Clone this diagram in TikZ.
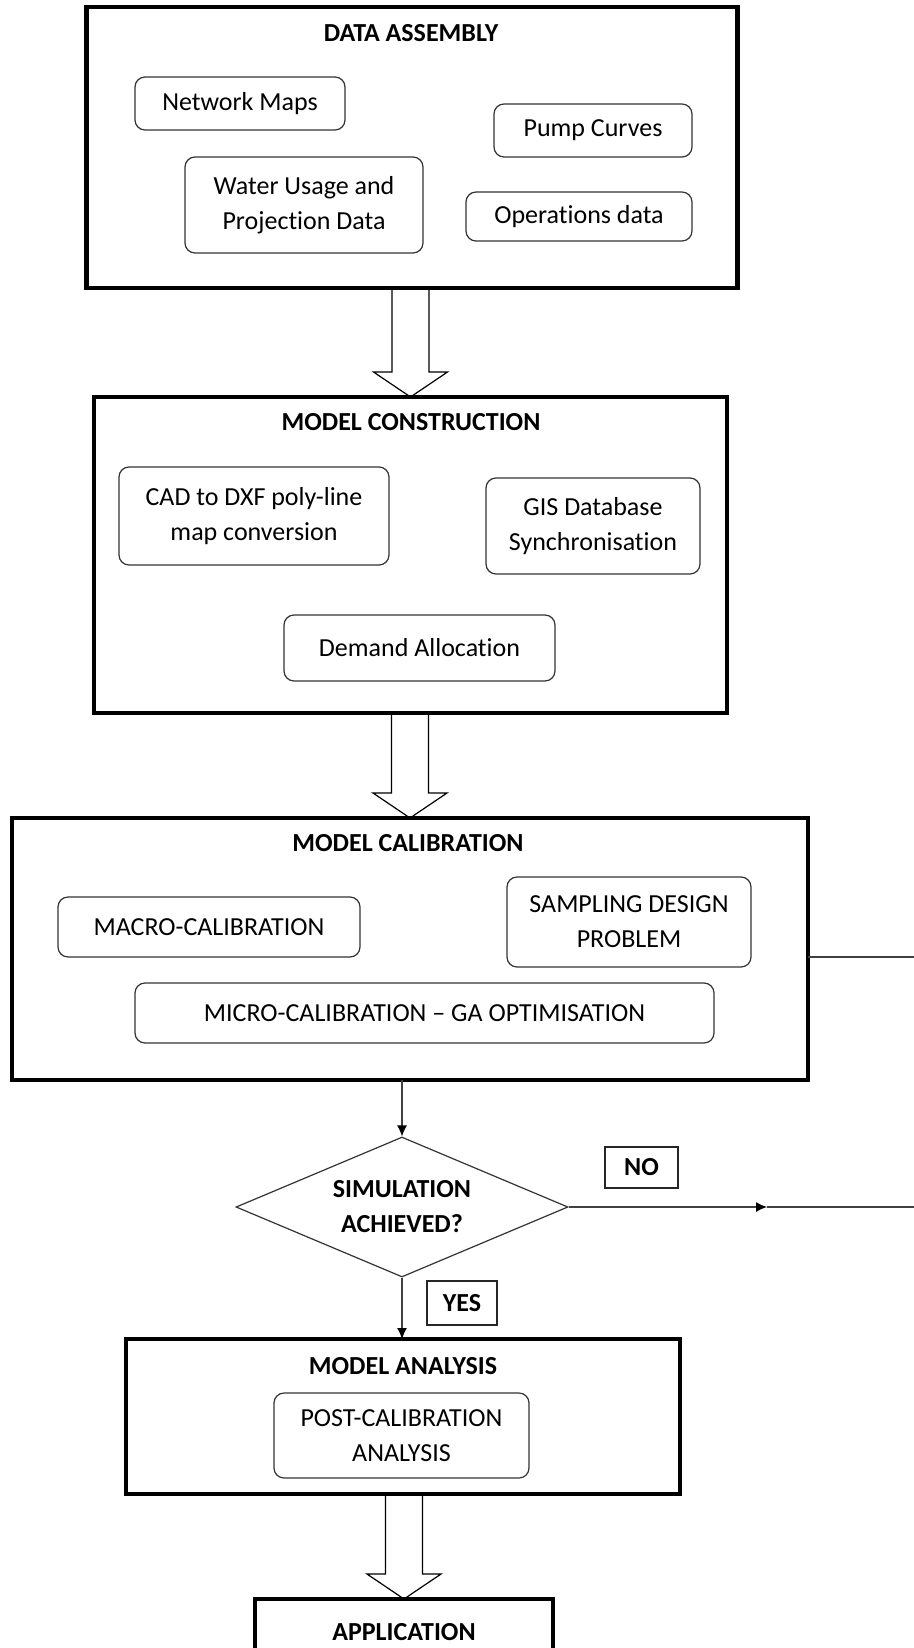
\documentclass[tikz,border=0pt]{standalone}
\usepackage{fontspec}
\setmainfont{Carlito}[Ligatures=NoCommon]
\usetikzlibrary{arrows.meta,calc,shapes.geometric}
\begin{document}
\begin{tikzpicture}[x=0.5pt,y=-0.5pt,
  every node/.style={font=\fontsize{13}{17.5}\selectfont, text=black},
  stage/.style={draw=black, line width=2.25pt, outer sep=0pt, inner sep=0pt},
  stagetitle/.style={font=\fontsize{13}{17.5}\selectfont\bfseries, inner sep=0pt},
  item/.style={draw=black!80, line width=0.6pt, rounded corners=5pt, align=center, inner sep=2pt},
  decision/.style={diamond, aspect=2.37, draw=black!80, line width=0.6pt, inner sep=0pt, align=center,
    font=\fontsize{13}{17.5}\selectfont\bfseries},
  tag/.style={draw=black!85, line width=0.6pt, inner sep=0pt, font=\fontsize{13}{17.5}\selectfont\bfseries},
  conn/.style={draw=black!75, line width=0.6pt},
  tip/.style={-{Latex[length=5.5pt,width=5pt,color=black]}},
  hollow/.style={draw=black, line width=0.6pt, line join=miter,
    to path={let \p1=(\tikztostart), \p2=(\tikztotarget) in
      (\x2-9.25pt,\y1) -- (\x2-9.25pt,\y2+12.5pt) -- (\x2-18.5pt,\y2+12.5pt) -- (\x2,\y2)
      -- (\x2+18.5pt,\y2+12.5pt) -- (\x2+9.25pt,\y2+12.5pt) -- (\x2+9.25pt,\y1)}}
]
\useasboundingbox (0,0) rectangle (914,1648);
\fill[white] (0,0) rectangle (914,1648);
\clip (0,0) rectangle (914,1648);

% stage frames
\node[stage, minimum width=325.5pt, minimum height=140.5pt] (da)  at (412,147.5) {};
\node[stage, minimum width=316.5pt, minimum height=158pt]   (mc)  at (410.5,555) {};
\node[stage, minimum width=398pt,   minimum height=131pt]   (cal) at (410,949) {};
\node[stage, minimum width=277pt,   minimum height=77.5pt]  (ma)  at (403,1416.5) {};
\node[stage, minimum width=149pt,   minimum height=33pt,
      font=\fontsize{13}{17.5}\selectfont\bfseries]         (app) at (404,1632) {APPLICATION};

% stage titles
\node[stagetitle] (datitle)  at (411,33)   {DATA ASSEMBLY};
\node[stagetitle] (mctitle)  at (411,422)  {MODEL CONSTRUCTION};
\node[stagetitle] (caltitle) at (408,843)  {MODEL CALIBRATION};
\node[stagetitle] (matitle)  at (403,1366) {MODEL ANALYSIS};

% data assembly items
\node[item, minimum width=105pt, minimum height=26.5pt] (netmaps) at (240,103.5) {Network Maps};
\node[item, minimum width=99pt,  minimum height=26.5pt] (pumps)   at (593,130.5) {Pump Curves};
\node[item, minimum width=119pt, minimum height=48pt]   (usage)   at (304,205)   {Water Usage and\\Projection Data};
\node[item, minimum width=113pt, minimum height=24.5pt] (ops)     at (579,216.5) {Operations data};

% model construction items
\node[item, minimum width=135pt,   minimum height=49pt] (cad)    at (254,516)   {CAD to DXF poly-line\\map conversion};
\node[item, minimum width=107pt,   minimum height=48pt] (gis)    at (593,526)   {GIS Database\\Synchronisation};
\node[item, minimum width=135.5pt, minimum height=33pt] (demand) at (419.5,648) {Demand Allocation};

% calibration items
\node[item, minimum width=151pt,   minimum height=30pt] (macro)    at (209,927)    {MACRO-CALIBRATION};
\node[item, minimum width=122pt,   minimum height=45pt] (sampling) at (629,922)    {SAMPLING DESIGN\\PROBLEM};
\node[item, minimum width=289.5pt, minimum height=30pt] (micro)    at (424.5,1013) {MICRO-CALIBRATION – GA OPTIMISATION};

% analysis item
\node[item, minimum width=127.5pt, minimum height=42.5pt] (post) at (401.5,1435.5) {POST-CALIBRATION\\ANALYSIS};

% decision and branch labels
\node[decision, minimum width=166pt, minimum height=70pt] (dia) at (402,1207) {SIMULATION\\ACHIEVED?};
\node[tag, minimum width=36.5pt, minimum height=20.5pt] (no)  at (641.5,1167.5) {NO};
\node[tag, minimum width=35pt,   minimum height=22pt]   (yes) at (462,1303)     {YES};

% free ends of the loop-back lines
\coordinate (calout) at (914,957);
\coordinate (nomid)  at (767,1207);
\coordinate (noend)  at (914,1207);

% hollow block arrows between stages
\draw[hollow] (da.south) to (mc.north);
\draw[hollow] (mc.south) to (cal.north);
\draw[hollow] (ma.south) to (app.north);

% thin connectors
\draw[conn, tip] (dia.north |- cal.south) -- (dia.north);
\draw[conn, tip] (dia.south) -- (dia.south |- ma.north);
\draw[conn, tip] (dia.east) -- (nomid);
\draw[conn] (nomid) -- (noend);
\draw[conn] (cal.east |- calout) -- (calout);
\end{tikzpicture}
\end{document}
